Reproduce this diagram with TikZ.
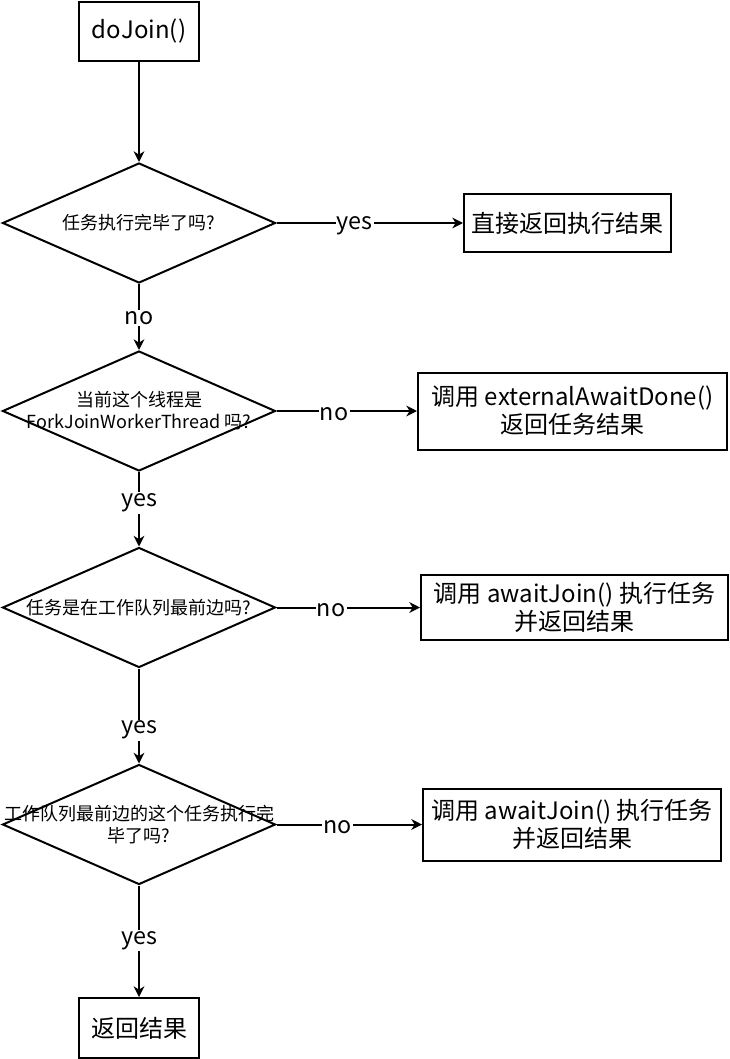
\documentclass[tikz,border=0pt]{standalone}
\usepackage{fontspec}
\setmainfont{Noto Sans CJK SC}
\usetikzlibrary{shapes.geometric, arrows.meta}

\begin{document}
\begin{tikzpicture}[x=0.75pt, y=-0.75pt, line width=1.5pt,
	procbox/.style 2 args = {draw, rectangle, minimum width = #1, minimum height = #2,
		inner sep = 0pt, align = center, font = \fontsize{18}{21}\selectfont},
	decision/.style = {draw, diamond, minimum width = 204.75pt, minimum height = 90pt, inner sep = 0pt},
	dtext/.style = {align = center, inner sep = 0pt, font = \fontsize{13.5}{16.5}\selectfont},
	edgelabel/.style = {fill = white, inner sep = 1pt, yshift = -2pt, font = \fontsize{17.5}{20}\selectfont},
	flow/.style = {-{Stealth[length = 8pt, width = 8pt, inset = 2.5pt]}}]
	
	\useasboundingbox (0,0) rectangle (729,1059);
	
	% main column
	\node [procbox = {90pt}{44.25pt}] (start) at (139,31.5) {doJoin()};
	
	\node [decision] (d1) at (139,223) {};
	\node [dtext] at (d1) {任务执行完毕了吗?};
	
	\node [decision] (d2) at (139,411) {};
	\node [dtext] at (d2) {当前这个线程是\\ForkJoinWorkerThread 吗?};
	
	\node [decision] (d3) at (139,607.5) {};
	\node [dtext] at (d3) {任务是在工作队列最前边吗?};
	
	\node [decision] (d4) at (139,824.5) {};
	\node [dtext] at (d4) {工作队列最前边的这个任务执行完\\毕了吗?};
	
	\node [procbox = {90pt}{45pt}] (done) at (139,1028) {返回结果};
	
	% results on the right
	\node [procbox = {155.25pt}{43.5pt}] (r1) at (567.5,223) {直接返回执行结果};
	\node [procbox = {231.75pt}{57.75pt}] (r2) at (572.5,411) {调用 externalAwaitDone()\\返回任务结果};
	\node [procbox = {230.25pt}{48.75pt}] (r3) at (574.5,607.5) {调用 awaitJoin() 执行任务\\并返回结果};
	\node [procbox = {223.5pt}{54pt}] (r4) at (572,824.5) {调用 awaitJoin() 执行任务\\并返回结果};
	
	% connectors
	\draw [flow] (start) -- (d1);
	\draw [flow] (d1.east) -- node [edgelabel, pos = 0.42] {yes} (r1.west);
	\draw [flow] (d1.south) -- node [edgelabel, pos = 0.48] {no} (d2.north);
	\draw [flow] (d2.east) -- node [edgelabel, pos = 0.41] {no} (r2.west);
	\draw [flow] (d2.south) -- node [edgelabel, pos = 0.38] {yes} (d3.north);
	\draw [flow] (d3.east) -- node [edgelabel, pos = 0.38] {no} (r3.west);
	\draw [flow] (d3.south) -- node [edgelabel, pos = 0.62] {yes} (d4.north);
	\draw [flow] (d4.east) -- node [edgelabel, pos = 0.42] {no} (r4.west);
	\draw [flow] (d4.south) -- node [edgelabel, pos = 0.47] {yes} (done.north);
\end{tikzpicture}
\end{document}
